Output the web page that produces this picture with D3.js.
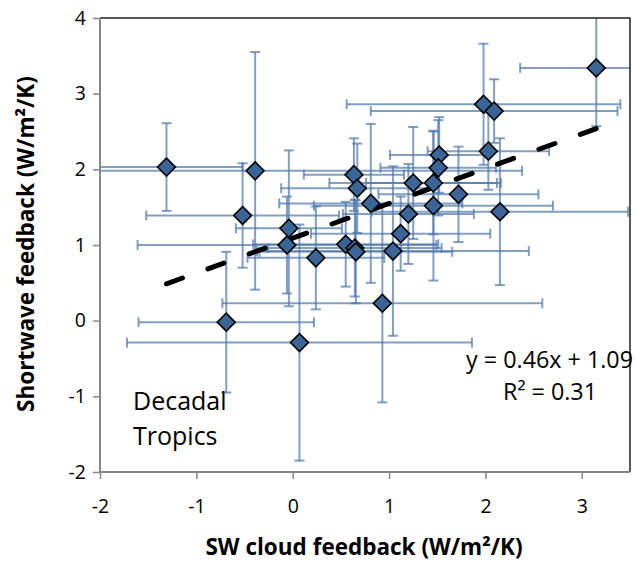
<!DOCTYPE html>
<html>
<head>
<meta charset="utf-8">
<script src="https://cdn.jsdelivr.net/npm/d3@7"></script>
<style>
  body { margin: 0; background: #fff; }
  svg text { font-family: "Open Sans", "Noto Sans", sans-serif; fill: #000; }
</style>
</head>
<body>
<svg id="chart" width="635" height="565"></svg>
<script>
// Model points: SW cloud feedback (x) vs shortwave feedback (y), with 1-sigma errors
const xVals = [-1.31, -0.39, -0.52, -0.04, -0.06, 0.24, -0.69, 0.07, 0.635, 0.67,
  0.55, 0.645, 0.655, 0.81, 0.93, 1.04, 1.12, 1.20, 1.25, 1.52,
  1.51, 1.46, 1.46, 1.72, 2.03, 1.98, 2.09, 2.15, 3.15]
const yVals = [2.03, 1.98, 1.39, 1.22, 1.00, 0.83, -0.02, -0.29, 1.93, 1.75,
  1.01, 0.96, 0.91, 1.55, 0.23, 0.92, 1.15, 1.41, 1.82, 2.19,
  2.02, 1.82, 1.52, 1.67, 2.24, 2.86, 2.77, 1.44, 3.34]
const xErr = [0.79, 2.77, 1.00, 0.55, 1.55, 0.71, 0.91, 1.79, 0.52, 0.79,
  0.96, 0.90, 1.00, 0.95, 1.66, 1.41, 0.93, 0.68, 0.87, 0.51,
  0.60, 0.70, 1.24, 0.83, 0.63, 1.42, 1.28, 1.33, 0.79]
const yErr = [0.58, 1.57, 0.69, 1.03, 0.64, 0.68, 0.93, 1.56, 0.48, 0.59,
  0.56, 0.64, 0.68, 1.05, 1.31, 1.12, 0.49, 0.66, 0.74, 0.50,
  0.63, 0.68, 0.99, 0.63, 0.51, 0.80, 0.42, 0.97, 0.77]

const xTicks = [-2, -1, 0, 1, 2, 3]
const yTicks = [-2, -1, 0, 1, 2, 3, 4]
const fit = { slope: 0.46, intercept: 1.09 }

const points = xVals.map((x, i) => ({ x, y: yVals[i], ex: xErr[i], ey: yErr[i] }))

const svg = d3.select('#chart')
const pLeft = 100, pRight = 630, pTop = 18, pBottom = 472

const x = d3.scaleLinear().domain([-2, 3.5]).range([pLeft, pRight])
const y = d3.scaleLinear().domain([-2, 4]).range([pBottom, pTop])

// clip for marks
svg.append('clipPath').attr('id', 'plot')
  .append('rect').attr('x', pLeft).attr('y', pTop)
  .attr('width', pRight - pLeft).attr('height', pBottom - pTop)

const plot = svg.append('g').attr('clip-path', 'url(#plot)')

// Error bars
const barColor = 'rgba(82,122,172,0.72)'
const cap = 5
const bars = plot.append('g').attr('stroke', barColor).attr('stroke-width', 2).attr('fill', 'none')
points.forEach(p => {
  const cx = x(p.x), cy = y(p.y)
  const x0 = x(p.x - p.ex), x1 = x(p.x + p.ex)
  const y0 = y(p.y - p.ey), y1 = y(p.y + p.ey)
  bars.append('line').attr('x1', x0).attr('x2', x1).attr('y1', cy).attr('y2', cy)
  bars.append('line').attr('x1', x0).attr('x2', x0).attr('y1', cy - cap).attr('y2', cy + cap)
  bars.append('line').attr('x1', x1).attr('x2', x1).attr('y1', cy - cap).attr('y2', cy + cap)
  bars.append('line').attr('x1', cx).attr('x2', cx).attr('y1', y0).attr('y2', y1)
  bars.append('line').attr('x1', cx - cap).attr('x2', cx + cap).attr('y1', y0).attr('y2', y0)
  bars.append('line').attr('x1', cx - cap).attr('x2', cx + cap).attr('y1', y1).attr('y2', y1)
})

// Trend line
const fx = d3.extent(xVals)
plot.append('line')
  .attr('x1', x(fx[0])).attr('y1', y(fit.slope * fx[0] + fit.intercept))
  .attr('x2', x(fx[1])).attr('y2', y(fit.slope * fx[1] + fit.intercept))
  .attr('stroke', '#000').attr('stroke-width', 5)
  .attr('stroke-linecap', 'round')
  .attr('stroke-dasharray', '17,27')

// Diamond markers
plot.append('g').selectAll('path')
  .data(points)
  .join('path')
  .attr('d', d3.symbol(d3.symbolSquare, 160))
  .attr('transform', d => `translate(${x(d.x)},${y(d.y)}) rotate(45)`)
  .attr('fill', '#3a6596')
  .attr('stroke', '#000')
  .attr('stroke-width', 1.6)

// Frame: top & right dark
svg.append('path')
  .attr('d', `M${pLeft},${pTop}H${pRight}V${pBottom}`)
  .attr('fill', 'none').attr('stroke', '#222').attr('stroke-width', 1.5)

// Axes (plain hyphen minus like the original)
const fmt = d => String(d)
const xAxis = svg.append('g')
  .attr('transform', `translate(0,${pBottom})`)
  .call(d3.axisBottom(x).tickValues(xTicks).tickSize(7).tickPadding(20).tickFormat(fmt))
const yAxis = svg.append('g')
  .attr('transform', `translate(${pLeft},0)`)
  .call(d3.axisLeft(y).tickValues(yTicks).tickSize(7).tickPadding(7).tickFormat(fmt))

;[xAxis, yAxis].forEach(g => {
  g.select('.domain').attr('stroke', '#878787').attr('stroke-width', 2)
  g.selectAll('.tick line').attr('stroke', '#878787').attr('stroke-width', 1.5)
  g.selectAll('.tick text').attr('font-size', 19.5).attr('font-family', '"Open Sans", sans-serif').attr('fill', '#000')
})
xAxis.select('.domain').attr('d', `M${pLeft},0H${pRight}`)
yAxis.select('.domain').attr('d', `M0,${pBottom}V${pTop}`)

// Axis titles
svg.append('text')
  .attr('x', 364).attr('y', 555)
  .attr('text-anchor', 'middle')
  .attr('font-size', 22.5).attr('font-weight', 'bold')
  .text('SW cloud feedback (W/m²/K)')

svg.append('text')
  .attr('transform', `translate(34,244) rotate(-90)`)
  .attr('text-anchor', 'middle')
  .attr('font-size', 22.5).attr('font-weight', 'bold')
  .text('Shortwave feedback (W/m²/K)')

// Annotations
svg.append('text')
  .attr('x', 633).attr('y', 368).attr('text-anchor', 'end')
  .attr('font-size', 23.3)
  .text('y = 0.46x + 1.09')
svg.append('text')
  .attr('x', 550).attr('y', 400).attr('text-anchor', 'middle')
  .attr('font-size', 23.3)
  .text('R² = 0.31')

svg.append('text').attr('x', 133).attr('y', 410).attr('font-size', 25).text('Decadal')
svg.append('text').attr('x', 133).attr('y', 445).attr('font-size', 25).text('Tropics')
</script>
</body>
</html>
